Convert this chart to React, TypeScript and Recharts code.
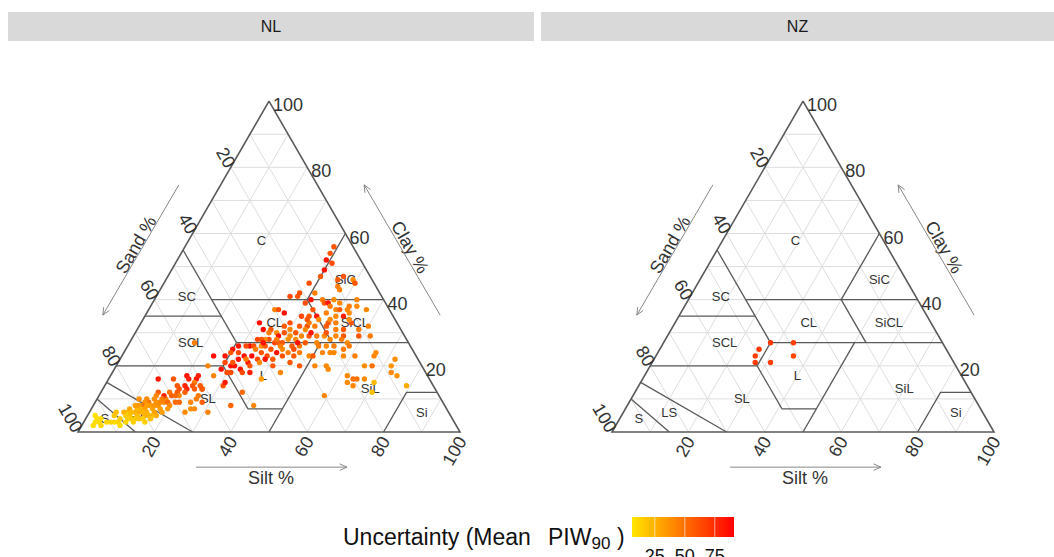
import { ScatterChart, Scatter, XAxis, YAxis } from 'recharts'

// clay %, silt %, mean PIW90 (sand = 100 - clay - silt)
type Sample = [number, number, number]

const NL_SAMPLES: Sample[] = [
  [56, 39, 60], [54, 39, 60], [52, 39, 84], [51, 41, 62], [49, 40, 84], [47, 40, 58], [45, 38, 62], [42, 41, 45],
  [47, 46, 60], [46, 45, 58], [46, 49, 40], [45, 50, 60], [44, 46, 45], [43, 47, 42], [42, 37, 62], [41, 37, 60],
  [41, 35, 64], [40, 41, 84], [40, 44, 45], [39, 45, 58], [39, 46, 84], [40, 47, 40], [39, 49, 40], [40, 53, 42],
  [38, 54, 40], [38, 52, 45], [39, 40, 62], [37, 43, 60], [38, 47, 45], [37, 49, 40], [37, 50, 58], [37, 52, 42],
  [37, 57, 40], [37, 33, 42], [36, 36, 84], [37, 34, 62], [35, 41, 64], [35, 43, 58], [35, 45, 84], [34, 46, 40],
  [36, 47, 42], [35, 50, 40], [35, 52, 80], [36, 53, 40], [33, 31, 86], [31, 33, 86], [31, 35, 60], [30, 37, 38],
  [32, 38, 58], [33, 39, 62], [31, 40, 42], [32, 42, 58], [32, 44, 62], [32, 46, 45], [32, 49, 58], [33, 49, 60],
  [31, 52, 45], [31, 54, 58], [31, 58, 45], [32, 60, 42], [29, 38, 84], [29, 41, 40], [30, 42, 60], [29, 44, 42],
  [29, 46, 58], [29, 48, 45], [29, 50, 38], [29, 53, 42], [29, 55, 58], [29, 59, 60], [29, 62, 45], [28, 36, 62],
  [28, 35, 40], [28, 34, 60], [28, 33, 64], [26, 32, 86], [26, 31, 64], [26, 33, 62], [26, 35, 38], [26, 36, 60],
  [27, 38, 64], [27, 39, 58], [28, 41, 38], [26, 43, 58], [26, 45, 45], [27, 46, 58], [27, 49, 40], [26, 50, 45],
  [26, 52, 40], [26, 54, 45], [25, 57, 45], [25, 28, 86], [24, 30, 64], [23, 32, 84], [23, 34, 86], [22, 36, 64],
  [23, 38, 62], [22, 40, 58], [23, 42, 60], [23, 45, 58], [24, 46, 45], [23, 49, 40], [23, 50, 58], [24, 52, 42],
  [24, 54, 40], [24, 55, 42], [23, 58, 40], [23, 61, 45], [23, 66, 42], [23, 24, 86], [23, 27, 84], [21, 28, 64],
  [20, 30, 86], [20, 31, 84], [19, 33, 84], [21, 34, 82], [19, 28, 84], [18, 30, 62], [18, 31, 64], [18, 34, 64],
  [18, 36, 80], [16, 40, 32], [20, 41, 60], [18, 44, 42], [21, 45, 58], [20, 48, 58], [20, 52, 42], [20, 55, 40],
  [19, 56, 40], [17, 62, 40], [16, 64, 50], [20, 65, 40], [20, 67, 50], [24, 66, 40], [15, 63, 40], [14, 65, 42],
  [16, 65, 48], [16, 67, 40], [15, 70, 22], [12, 71, 20], [22, 72, 38], [20, 72, 36], [18, 73, 40], [17, 75, 36],
  [14, 79, 28], [20, 24, 42], [17, 27, 42], [14, 31, 60], [15, 31, 82], [12, 37, 52], [8, 42, 40], [11, 59, 42],
  [13, 26, 58], [27, 17, 45],
  [28, 38, 45], [27, 40, 60], [28, 43, 40], [27, 44, 84], [26, 40, 45], [25, 38, 60], [25, 41, 40], [25, 44, 62],
  [24, 43, 45], [24, 40, 84], [24, 36, 60], [25, 34, 45], [27, 35, 84], [26, 29, 84], [24, 28, 60], [22, 31, 84],
  [21, 30, 60], [22, 33, 45], [21, 37, 40], [22, 38, 84], [20, 35, 60], [30, 35, 45], [30, 39, 60], [31, 44, 40],
  [30, 46, 84], [33, 44, 45], [34, 43, 60], [34, 49, 40], [33, 51, 45], [30, 50, 60], [28, 52, 40], [28, 55, 45],
  [27, 57, 40], [26, 58, 45], [33, 55, 60], [34, 54, 40],
  // sandy end
  [16, 13, 82], [16, 17, 60], [17, 20, 84], [16, 21, 80], [16, 23, 84], [17, 23, 80], [15, 23, 45], [14, 23, 60],
  [14, 21, 78], [13, 22, 78], [13, 20, 60], [14, 19, 58], [14, 25, 58], [13, 26, 58], [12, 20, 58], [11, 21, 42],
  [11, 19, 56], [10, 18, 40], [11, 17, 76], [12, 15, 58], [11, 15, 42], [10, 15, 38], [9, 14, 50], [9, 13, 36],
  [10, 11, 38], [8, 13, 48], [8, 15, 34], [7, 16, 30], [8, 17, 36], [9, 17, 40], [9, 18, 42], [9, 19, 52],
  [8, 20, 40], [6, 19, 32], [5, 18, 28], [5, 17, 20], [5, 15, 26], [6, 13, 28], [7, 12, 22], [6, 12, 26],
  [5, 11, 18], [6, 10, 20], [4, 9, 16], [4, 11, 14], [4, 12, 16], [4, 14, 18], [4, 15, 16], [3, 16, 14],
  [3, 9, 14], [3, 8, 12], [3, 7, 12], [6, 9, 26], [9, 22, 54], [9, 25, 42], [6, 25, 40], [7, 26, 38],
  [7, 27, 40], [6, 31, 42], [8, 36, 54], [9, 28, 56], [10, 26, 44], [11, 26, 46], [3, 3, 8], [3, 4, 10],
  [4, 3, 10], [2, 5, 12], [3, 6, 12], [5, 7, 16], [6, 7, 20], [8, 11, 32], [8, 12, 34], [7, 10, 30],
  [7, 20, 36], [9, 21, 52], [5, 2, 8], [2, 3, 10], [4, 4, 10], [5, 13, 22], [6, 15, 26], [4, 13, 18],
  [5, 10, 16], [6, 11, 22], [7, 13, 26], [7, 14, 30], [3, 11, 12], [3, 13, 14], [5, 16, 24], [6, 17, 30],
  [8, 16, 36], [7, 18, 34], [4, 17, 20], [2, 10, 10], [6, 14, 24], [8, 14, 32], [10, 13, 40], [9, 16, 38],
  [10, 17, 44], [12, 18, 50], [11, 20, 52], [12, 22, 56], [13, 24, 58],
]

const NZ_SAMPLES: Sample[] = [
  [27, 28, 70], [27, 34, 68], [23, 36, 66], [25, 26, 70], [23, 26, 68], [21, 27, 70], [21, 31, 68],
]

const PANELS = [
  { name: 'NL', samples: NL_SAMPLES },
  { name: 'NZ', samples: NZ_SAMPLES },
]

const TICKS = [20, 40, 60, 80, 100]
const GRID_STEPS = [10, 20, 30, 40, 50, 60, 70, 80, 90]

// USDA texture classes: label at [clay, silt]
const CLASS_LABELS: [string, number, number][] = [
  ['C', 58, 19], ['SiC', 46, 47], ['SC', 41, 8], ['CL', 33, 35], ['SiCL', 33, 56],
  ['SCL', 27, 16], ['L', 17, 40], ['SL', 10, 29], ['SiL', 13, 70], ['Si', 6, 87],
  ['LS', 6, 12], ['S', 4, 5],
]

// class boundaries as [clay, silt] polylines
const CLASS_LINES: [number, number][][] = [
  [[55, 0], [27, 28]],
  [[40, 15], [40, 60]],
  [[60, 40], [40, 40]],
  [[35, 0], [35, 20]],
  [[27, 28], [27, 73]],
  [[40, 40], [27, 53]],
  [[20, 0], [20, 28], [7, 41], [7, 50]],
  [[27, 28], [20, 28]],
  [[0, 50], [27, 50]],
  [[0, 80], [12, 80], [12, 88]],
  [[15, 0], [0, 30]],
  [[10, 0], [0, 15]],
]

const PIW_DOMAIN = [6, 91]
const LEGEND_TICKS = [25, 50, 75]

const H = Math.sqrt(3) / 2
const SIDE = 382
const ORIGIN_X = 78
const ORIGIN_Y = 432
const CHART_H = 500
const FONT = '"Liberation Sans", Arial, sans-serif'
const INK = '#333'

const tern = (clay: number, silt: number) => ({ x: (silt + clay / 2) / 100, y: (clay / 100) * H })

function piwColor(v: number) {
  const t = Math.min(1, Math.max(0, (v - PIW_DOMAIN[0]) / (PIW_DOMAIN[1] - PIW_DOMAIN[0])))
  return `rgb(255,${Math.round(230 * (1 - t))},0)`
}

const noDot = () => <g />

const dot = (p: any) => <circle cx={p.cx} cy={p.cy} r={2.7} fill={p.payload.fill} />

const textShape = (p: any) => {
  const { text, rotate = 0, anchor = 'middle', dx = 0, dy = 0, fs = 13 } = p.payload
  const x = p.cx + dx
  const y = p.cy + dy
  return (
    <text
      x={x} y={y}
      transform={rotate ? `rotate(${rotate} ${x} ${y})` : undefined}
      textAnchor={anchor}
      dominantBaseline="central"
      fontSize={fs}
      fill={INK}
      fontFamily={FONT}
    >
      {text}
    </text>
  )
}

const arrowShape = (p: any) => {
  const head = p.payload.head
  if (head === undefined) return <g />
  const a = (head * Math.PI) / 180
  const wing = (s: number) => {
    const b = a + Math.PI + s
    return `${p.cx + 8 * Math.cos(b)},${p.cy + 8 * Math.sin(b)}`
  }
  return <path d={`M${wing(0.42)}L${p.cx},${p.cy}L${wing(-0.42)}`} fill="none" stroke="#888" strokeWidth={1} />
}

function TernaryPanel({ samples, width }: { samples: Sample[]; width: number }) {
  const xDomain = [-ORIGIN_X / SIDE, (width - ORIGIN_X) / SIDE]
  const yDomain = [-(CHART_H - ORIGIN_Y) / SIDE, ORIGIN_Y / SIDE]

  const grid = GRID_STEPS.flatMap((k) => [
    [tern(k, 0), tern(k, 100 - k)],
    [tern(0, k), tern(100 - k, k)],
    [tern(0, 100 - k), tern(100 - k, 0)],
  ])
  const frame = [tern(100, 0), tern(0, 0), tern(0, 100), tern(100, 0)]
  const classLines = CLASS_LINES.map((line) => line.map(([c, s]) => tern(c, s)))
  const classLabels = CLASS_LABELS.map(([text, c, s]) => ({ ...tern(c, s), text, fs: 13 }))
  const clayTicks = TICKS.map((v) => ({ ...tern(v, 100 - v), text: String(v), anchor: 'start', dx: 4, dy: 4, fs: 18 }))
  const sandTicks = TICKS.map((v) => ({ ...tern(100 - v, 0), text: String(v), anchor: 'end', rotate: 60, dy: -1, fs: 18 }))
  const siltTicks = TICKS.map((v) => ({ ...tern(0, v), text: String(v), anchor: 'end', rotate: -60, dx: 2, dy: 6, fs: 18 }))
  const titles = [
    { x: 0.152, y: 0.49, text: 'Sand %', rotate: -60, fs: 18 },
    { x: 0.869, y: 0.484, text: 'Clay %', rotate: 60, fs: 18 },
    { x: 0.505, y: -0.12, text: 'Silt %', fs: 18 },
  ]
  const arrows = [
    [{ x: 0.309, y: -0.092 }, { x: 0.704, y: -0.092, head: 0 }],
    [{ x: 0.264, y: 0.647 }, { x: 0.065, y: 0.306, head: 120 }],
    [{ x: 0.948, y: 0.306 }, { x: 0.749, y: 0.647, head: 240 }],
  ]
  const points = samples.map(([c, s, v]) => ({ ...tern(c, s), fill: piwColor(v) }))

  return (
    <ScatterChart width={width} height={CHART_H} margin={{ top: 0, right: 0, bottom: 0, left: 0 }}>
      <XAxis type="number" dataKey="x" domain={xDomain} hide />
      <YAxis type="number" dataKey="y" domain={yDomain} hide />
      {grid.map((seg, i) => (
        <Scatter key={`g${i}`} data={seg} line={{ stroke: '#DEDEDE', strokeWidth: 1 }} shape={noDot} isAnimationActive={false} />
      ))}
      {classLines.map((seg, i) => (
        <Scatter key={`c${i}`} data={seg} line={{ stroke: '#5A5A5A', strokeWidth: 1.3 }} shape={noDot} isAnimationActive={false} />
      ))}
      <Scatter data={frame} line={{ stroke: '#5A5A5A', strokeWidth: 1.6 }} shape={noDot} isAnimationActive={false} />
      <Scatter data={classLabels} shape={textShape} isAnimationActive={false} />
      <Scatter data={clayTicks} shape={textShape} isAnimationActive={false} />
      <Scatter data={sandTicks} shape={textShape} isAnimationActive={false} />
      <Scatter data={siltTicks} shape={textShape} isAnimationActive={false} />
      <Scatter data={titles} shape={textShape} isAnimationActive={false} />
      {arrows.map((seg, i) => (
        <Scatter key={`a${i}`} data={seg} line={{ stroke: '#888', strokeWidth: 1 }} shape={arrowShape} isAnimationActive={false} />
      ))}
      <Scatter data={points} shape={dot} isAnimationActive={false} />
    </ScatterChart>
  )
}

function Legend() {
  const x0 = 632
  const w = 102
  const pos = (v: number) => x0 + ((v - PIW_DOMAIN[0]) / (PIW_DOMAIN[1] - PIW_DOMAIN[0])) * w
  return (
    <svg width={1054} height={557} style={{ position: 'absolute', left: 0, top: 0, pointerEvents: 'none' }}>
      <defs>
        <linearGradient id="piw" x1="0" x2="1" y1="0" y2="0">
          <stop offset="0%" stopColor={piwColor(PIW_DOMAIN[0])} />
          <stop offset="50%" stopColor={piwColor((PIW_DOMAIN[0] + PIW_DOMAIN[1]) / 2)} />
          <stop offset="100%" stopColor={piwColor(PIW_DOMAIN[1])} />
        </linearGradient>
      </defs>
      <text y={545} fontSize={23} fontFamily={FONT} fill="#111">
        <tspan x={343}>Uncertainty (Mean</tspan>
        <tspan x={548}>PIW</tspan>
        <tspan fontSize={17} dy={4}>90</tspan>
        <tspan x={617} dy={-4}>)</tspan>
      </text>
      <rect x={x0} y={517} width={w} height={20} fill="url(#piw)" />
      {LEGEND_TICKS.map((t) => (
        <g key={t}>
          <line x1={pos(t)} x2={pos(t)} y1={517} y2={537} stroke="#fff" strokeOpacity={0.6} strokeWidth={1} />
          <text x={pos(t)} y={562} fontSize={18} fontFamily={FONT} fill="#111" textAnchor="middle">{t}</text>
        </g>
      ))}
    </svg>
  )
}

export default function App() {
  return (
    <div style={{ position: 'absolute', left: 0, top: 0, width: 1054, height: 557, background: '#fff', fontFamily: FONT, overflow: 'hidden' }}>
      {PANELS.map((p, i) => (
        <div
          key={p.name}
          style={{
            position: 'absolute', left: i === 0 ? 8 : 541, top: 12, width: i === 0 ? 526 : 513, height: 29,
            background: '#D9D9D9', textAlign: 'center', lineHeight: '29px', fontSize: 16, color: '#1A1A1A',
          }}
        >
          {p.name}
        </div>
      ))}
      {PANELS.map((p, i) => (
        <div key={`chart-${p.name}`} style={{ position: 'absolute', left: i === 0 ? 0 : 534, top: 0 }}>
          <TernaryPanel samples={p.samples} width={i === 0 ? 533 : 520} />
        </div>
      ))}
      <Legend />
    </div>
  )
}
